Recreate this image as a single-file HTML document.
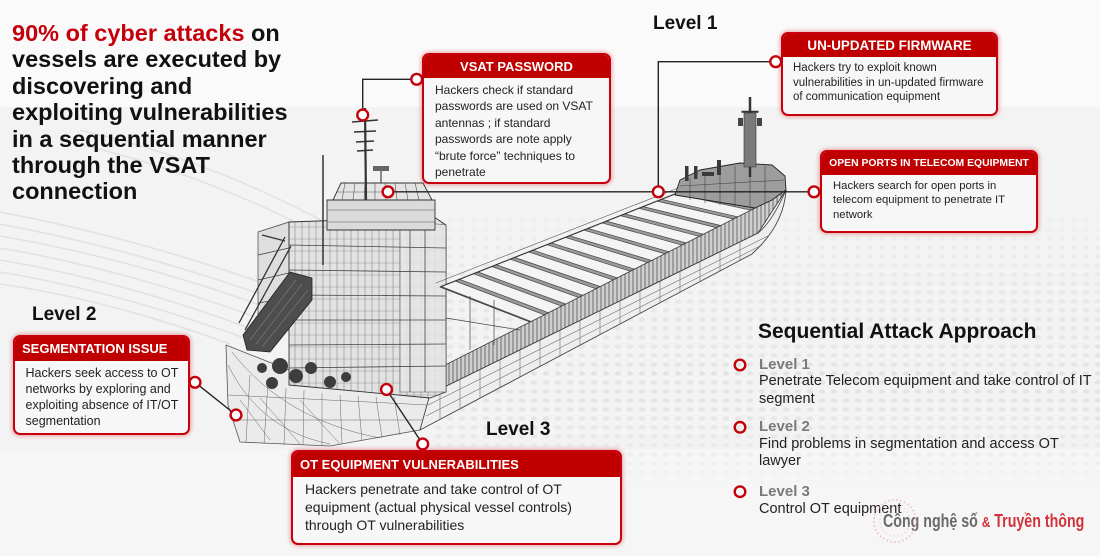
<!DOCTYPE html>
<html><head><meta charset="utf-8">
<style>
*{margin:0;padding:0;box-sizing:border-box}
html,body{width:1100px;height:556px;overflow:hidden}
body{position:relative;background:#f3f3f3;font-family:"Liberation Sans",Arial,sans-serif;color:#1a1a1a}
svg.layer{position:absolute;left:0;top:0}
.head{position:absolute;left:12px;top:20px;font-weight:bold;font-size:23.5px;line-height:26.4px;white-space:nowrap;color:#111;z-index:2}
.head .r{color:#c4000b}
.lvl{position:absolute;font-weight:bold;font-size:19px;line-height:22px;white-space:nowrap;color:#111;z-index:2}
.box{position:absolute;border:2px solid #c8000e;border-radius:7px;background:#f7f7f7;box-shadow:0 0 4px 1px rgba(210,0,0,.35);overflow:hidden;z-index:2}
.box .h{background:#c00000;color:#fff;font-weight:bold;white-space:nowrap}
.box .b{color:#222;white-space:nowrap}
.seq{position:absolute;white-space:nowrap;z-index:2}
</style>
</head>
<body>

<svg class="layer" width="1100" height="556" viewBox="0 0 1100 556" style="z-index:0">
  <defs>
    <pattern id="dots" width="12" height="9" patternUnits="userSpaceOnUse">
      <ellipse cx="6" cy="4.5" rx="3.2" ry="2.2" fill="#e3e3e3"/>
    </pattern>
    <linearGradient id="fade" x1="0" y1="0" x2="0" y2="1">
      <stop offset="0" stop-color="#000"/>
      <stop offset=".3" stop-color="#aaa"/>
      <stop offset=".7" stop-color="#fff"/>
      <stop offset="1" stop-color="#000"/>
    </linearGradient>
    <mask id="m"><rect x="430" y="200" width="670" height="290" fill="url(#fade)"/></mask>
    <pattern id="vl" width="4" height="10" patternUnits="userSpaceOnUse">
      <rect width="4" height="10" fill="#cfcfcf"/>
      <line x1="1" y1="0" x2="1" y2="10" stroke="#555" stroke-width=".8"/>
    </pattern>
    <pattern id="win" width="7" height="12" patternUnits="userSpaceOnUse">
      <rect width="7" height="12" fill="#e2e2e2"/>
      <line x1="1" y1="0" x2="1" y2="12" stroke="#777" stroke-width=".5"/>
      <line x1="0" y1="11" x2="7" y2="11" stroke="#888" stroke-width=".4"/>
    </pattern>
  </defs>
  <rect x="0" y="0" width="1100" height="107" fill="#fafafa"/>
  <rect x="0" y="450" width="1100" height="106" fill="#f6f6f6"/>
  <rect x="430" y="200" width="670" height="290" fill="url(#dots)" mask="url(#m)"/>
  <!-- left swooshes -->
  <g stroke="#e2e2e2" stroke-width="1.6" fill="none">
    <path d="M0,212 Q150,240 310,300"/>
    <path d="M0,224 Q150,252 310,312"/>
    <path d="M0,236 Q150,262 300,320"/>
    <path d="M0,248 Q140,272 290,330"/>
    <path d="M0,260 Q130,282 270,336"/>
    <path d="M0,272 Q120,292 250,340"/>
    <path d="M0,284 Q110,300 230,344"/>
    <path d="M60,140 Q200,170 330,240"/>
    <path d="M80,130 Q210,160 330,225"/>
  </g>

  <!-- SHIP -->
  <g stroke-linejoin="round">
    <path d="M226,345 L289,370 L430,398 L420,430 L330,446 L240,442 L228,405 Z" fill="#ebebeb" stroke="#555" stroke-width=".8"/>
    <g stroke="#666" stroke-width=".5" fill="none">
      <path d="M228,365 Q260,430 330,444"/>
      <path d="M232,352 Q285,420 380,438"/>
      <path d="M228,395 L428,405"/>
      <path d="M232,420 L424,420"/>
      <path d="M250,375 L246,442"/><path d="M268,382 L264,444"/><path d="M286,388 L284,445"/>
      <path d="M304,390 L303,445"/><path d="M322,393 L322,446"/><path d="M340,395 L342,444"/>
      <path d="M358,396 L362,441"/><path d="M376,397 L382,438"/><path d="M394,397 L400,435"/>
      <path d="M240,400 L270,440"/><path d="M260,398 L300,444"/><path d="M300,400 L340,444"/>
    </g>
    <path d="M430,394 L758,233 Q772,222 786,190 Q784,225 752,254 L420,430 Z" fill="#eeeeee" stroke="#444" stroke-width=".9"/>
    <g stroke="#666" stroke-width=".55" fill="none">
      <path d="M428,405 L768,236"/>
      <path d="M426,416 L762,245"/>
      <path d="M440,389 L440,419"/><path d="M460,380 L460,409"/><path d="M480,370 L480,398"/>
      <path d="M500,360 L500,388"/><path d="M520,350 L520,377"/><path d="M540,340 L540,366"/>
      <path d="M560,330 L560,356"/><path d="M580,320 L580,345"/><path d="M600,311 L600,335"/>
      <path d="M620,301 L620,324"/><path d="M640,291 L640,313"/><path d="M660,281 L660,303"/>
      <path d="M680,271 L680,292"/><path d="M700,261 L700,282"/><path d="M720,252 L720,271"/>
      <path d="M740,242 L740,260"/>
    </g>
    <path d="M430,372.7 L755,208 L786,190 L758,233 L430,394 Z" fill="url(#vl)" stroke="#333" stroke-width=".8"/>

    <path d="M258,232 L289,222 L289,330 L258,323 Z" fill="#dedede" stroke="#444" stroke-width=".7"/>
    <path d="M289,222 L434,217 L446,225 L446,392 L430,398 L289,385 Z" fill="url(#win)" stroke="#333" stroke-width=".9"/>
    <path d="M400,220 L446,225 L446,392 L400,392 Z" fill="#e6e6e6" stroke="#444" stroke-width=".6" opacity=".85"/>
    <g stroke="#444" stroke-width=".8" fill="none">
      <path d="M289,245 L446,248"/><path d="M289,270 L446,272"/><path d="M289,295 L446,296"/>
      <path d="M289,320 L446,320"/><path d="M289,345 L446,344"/><path d="M289,368 L446,366"/>
      <path d="M258,255 L289,248"/><path d="M258,280 L289,273"/><path d="M258,303 L289,298"/>
      <path d="M410,222 L410,392"/><path d="M425,223 L425,392"/>
    </g>
    <rect x="327" y="200" width="108" height="30" fill="#dadada" stroke="#333" stroke-width=".9"/>
    <path d="M327,210 L435,210 M327,222 L435,222" stroke="#555" stroke-width=".6"/>
    <path d="M341,183 L423,183 L432,200 L333,200 Z" fill="#e4e4e4" stroke="#333" stroke-width=".9"/>
    <g stroke="#555" stroke-width=".6">
      <path d="M337,192 L428,192"/>
      <path d="M345,183 L342,200 M355,183 L353,200 M365,183 L364,200 M375,183 L375,200 M385,183 L386,200 M395,183 L397,200 M405,183 L408,200 M415,183 L419,200"/>
    </g>
    <path d="M365,108 L366,200" stroke="#333" stroke-width="2.2"/>
    <g stroke="#333" stroke-width="1.4">
      <path d="M352,122 L378,120"/><path d="M354,132 L376,131"/><path d="M356,142 L374,141"/><path d="M357,151 L373,150"/>
    </g>
    <path d="M323,155 L323,265" stroke="#333" stroke-width="1.5"/>
    <rect x="373" y="166" width="16" height="5" fill="#666"/>
    <path d="M381,171 L381,183" stroke="#444" stroke-width="1.2"/>
    <path d="M239,323 L285,237 M245,330 L291,246 M262,235 L285,241" stroke="#333" stroke-width="1.3" fill="none"/>
    <path d="M243,335 L290,272 L312,278 L312,300 L270,352 L247,350 Z" fill="#4d4d4d" stroke="#222" stroke-width=".8"/>
    <g stroke="#9a9a9a" stroke-width=".5">
      <path d="M250,340 L296,280"/><path d="M256,344 L302,284"/><path d="M262,347 L308,290"/>
    </g>
    <g fill="#3d3d3d">
      <circle cx="280" cy="366" r="8"/><circle cx="296" cy="376" r="7"/><circle cx="311" cy="368" r="6"/>
      <circle cx="330" cy="382" r="6"/><circle cx="272" cy="383" r="6"/><circle cx="346" cy="377" r="5"/>
      <circle cx="262" cy="368" r="5"/>
    </g>

    <path d="M440,287 L680,192 L755,208 L530,322 Z" fill="#9a9a9a" stroke="#333" stroke-width=".8"/>
    <g fill="#f4f4f4" stroke="#444" stroke-width=".7">
      <path d="M441.2,286.5 L455.1,281.0 L544.2,314.8 L531.1,321.4 Z"/>
      <path d="M459.6,279.3 L473.5,273.7 L561.4,306.1 L548.3,312.7 Z"/>
      <path d="M477.9,272.0 L491.8,266.5 L578.6,297.4 L565.6,304.0 Z"/>
      <path d="M496.3,264.7 L510.2,259.2 L595.8,288.7 L582.8,295.3 Z"/>
      <path d="M514.6,257.5 L528.6,251.9 L613.0,279.9 L600.0,286.5 Z"/>
      <path d="M533.0,250.2 L546.9,244.7 L630.2,271.2 L617.2,277.8 Z"/>
      <path d="M551.4,242.9 L565.3,237.4 L647.5,262.5 L634.4,269.1 Z"/>
      <path d="M569.7,235.7 L583.6,230.1 L664.7,253.8 L651.6,260.4 Z"/>
      <path d="M588.1,228.4 L602.0,222.9 L681.9,245.1 L668.8,251.7 Z"/>
      <path d="M606.4,221.1 L620.4,215.6 L699.1,236.3 L686.0,242.9 Z"/>
      <path d="M624.8,213.9 L638.7,208.3 L716.3,227.6 L703.3,234.2 Z"/>
      <path d="M643.2,206.6 L657.1,201.1 L733.5,218.9 L720.5,225.5 Z"/>
      <path d="M661.5,199.3 L675.4,193.8 L750.7,210.2 L737.7,216.8 Z"/>
    </g>
    <path d="M440,287 L680,192" stroke="#333" stroke-width="1.1"/>
    <path d="M436,283 L678,188" stroke="#555" stroke-width=".6"/>
    <g stroke="#444" stroke-width=".7" fill="none">
      <path d="M446,292 L446,340 M470,296 L470,350 M494,300 L494,345 M446,318 L520,330"/>
    </g>

    <path d="M675,195 L680,180 L700,170 L740,163 L772,165 L785,176 L786,190 L772,200 L755,208 Z" fill="#9d9d9d" stroke="#222" stroke-width=".9"/>
    <g stroke="#444" stroke-width=".6">
      <path d="M680,186 L784,180"/><path d="M690,178 L690,200 M705,172 L705,203 M720,168 L720,205 M735,166 L735,207 M750,165 L750,207 M765,166 L765,203"/>
    </g>
    <g fill="#3a3a3a">
      <rect x="685" y="166" width="3.5" height="15"/><rect x="694" y="166" width="3.5" height="13"/>
      <rect x="717" y="160" width="4" height="15"/><rect x="702" y="172" width="12" height="4"/>
    </g>
    <path d="M750,97 L750,177" stroke="#333" stroke-width="2.5"/>
    <rect x="744" y="113" width="12" height="54" fill="#7a7a7a" stroke="#333" stroke-width=".6"/>
    <path d="M741.5,111.7 L758.5,111.7" stroke="#333" stroke-width="2"/>
    <rect x="738" y="118" width="5" height="8" fill="#444"/><rect x="757" y="118" width="5" height="8" fill="#444"/>
  </g>
</svg>

<div class="head"><span class="r">90% of cyber attacks</span> on<br>vessels are executed by<br>discovering and<br>exploiting vulnerabilities<br>in a sequential manner<br>through the VSAT<br>connection</div>

<div class="lvl" style="left:653px;top:13px">Level 1</div>
<div class="lvl" style="left:32px;top:304px">Level 2</div>
<div class="lvl" style="left:486px;top:419px">Level 3</div>

<div class="box" style="left:422px;top:53px;width:189px;height:131px">
  <div class="h" style="height:23px;line-height:23px;font-size:13px;text-align:center">VSAT PASSWORD</div>
  <div class="b" style="padding:3.5px 0 0 11px;font-size:12px;line-height:16.5px">Hackers check if standard<br>passwords are used on VSAT<br>antennas ; if standard<br>passwords are note apply<br>“brute force” techniques to<br>penetrate</div>
</div>

<div class="box" style="left:781px;top:32px;width:217px;height:84px">
  <div class="h" style="height:23px;line-height:23px;font-size:13.4px;text-align:center">UN-UPDATED FIRMWARE</div>
  <div class="b" style="padding:4px 0 0 10px;font-size:11.5px;line-height:14.7px">Hackers try to exploit known<br>vulnerabilities in un-updated firmware<br>of communication equipment</div>
</div>

<div class="box" style="left:820px;top:150px;width:218px;height:83px">
  <div class="h" style="height:23px;line-height:23px;font-size:10.4px;text-align:center">OPEN PORTS IN TELECOM EQUIPMENT</div>
  <div class="b" style="padding:3.5px 0 0 11px;font-size:11.3px;line-height:14.7px">Hackers search for open ports in<br>telecom equipment to penetrate IT<br>network</div>
</div>

<div class="box" style="left:13px;top:335px;width:177px;height:100px">
  <div class="h" style="height:24px;line-height:24px;font-size:13px;padding-left:7px">SEGMENTATION ISSUE</div>
  <div class="b" style="padding:3.5px 0 0 10.5px;font-size:12.5px;line-height:16.2px">Hackers seek access to OT<br>networks by exploring and<br>exploiting absence of IT/OT<br>segmentation</div>
</div>

<div class="box" style="left:291px;top:450px;width:331px;height:95px">
  <div class="h" style="height:25px;line-height:25px;font-size:13px;padding-left:7px">OT EQUIPMENT VULNERABILITIES</div>
  <div class="b" style="padding:4px 0 0 12px;font-size:14px;line-height:17.8px">Hackers penetrate and take control of OT<br>equipment (actual physical vessel controls)<br>through OT vulnerabilities</div>
</div>

<div class="seq" style="left:758px;top:320px;font-size:21px;line-height:24px;font-weight:bold;color:#111">Sequential Attack Approach</div>
<div class="seq" style="left:759px;top:356px;font-size:15px;line-height:18px;font-weight:bold;color:#7a7a7a">Level 1</div>
<div class="seq" style="left:759px;top:373px;font-size:14.5px;line-height:17.6px;color:#222">Penetrate Telecom equipment and take control of IT<br>segment</div>
<div class="seq" style="left:759px;top:418.3px;font-size:15px;line-height:18px;font-weight:bold;color:#7a7a7a">Level 2</div>
<div class="seq" style="left:759px;top:435.5px;font-size:14.5px;line-height:17.6px;color:#222">Find problems in segmentation and access OT<br>lawyer</div>
<div class="seq" style="left:759px;top:482.7px;font-size:15px;line-height:18px;font-weight:bold;color:#7a7a7a">Level 3</div>
<div class="seq" style="left:759px;top:500.5px;font-size:14.5px;line-height:17.6px;color:#222">Control OT equipment</div>

<div class="seq" style="left:883px;top:511px;font-size:18px;line-height:21px;font-weight:bold;transform:scaleX(.79);transform-origin:left center;z-index:3"><span style="color:#6a6a6a">Công nghệ số </span><span style="color:#d2333b;font-size:15px">&amp;</span><span style="color:#d2333b"> Truyền thông</span></div>

<svg class="layer" width="1100" height="556" viewBox="0 0 1100 556" style="z-index:3;pointer-events:none">
  <circle cx="895" cy="521" r="21" fill="none" stroke="#f0b8bc" stroke-width="2" stroke-dasharray="1.5 2.5" opacity=".8"/>
  <circle cx="895" cy="521" r="15" fill="none" stroke="#f4c8cb" stroke-width="1.5" stroke-dasharray="1.5 2.5" opacity=".7"/>
  <g stroke="#222" stroke-width="1.4" fill="none">
    <polyline points="362.7,115 362.7,79.3 416.7,79.3"/>
    <line x1="388" y1="191.8" x2="814" y2="191.8"/>
    <polyline points="658.3,191.8 658.3,61.7 775.7,61.7"/>
    <line x1="195" y1="382.3" x2="236" y2="415"/>
    <line x1="386.5" y1="389.5" x2="422.7" y2="444"/>
  </g>
  <g fill="#fff" stroke="#c4000b" stroke-width="2.4">
    <circle cx="362.7" cy="115" r="5.4"/>
    <circle cx="416.7" cy="79.3" r="5.4"/>
    <circle cx="388" cy="191.8" r="5.4"/>
    <circle cx="658.3" cy="191.8" r="5.4"/>
    <circle cx="775.7" cy="61.7" r="5.4"/>
    <circle cx="814" cy="191.8" r="5.4"/>
    <circle cx="195" cy="382.3" r="5.4"/>
    <circle cx="236" cy="415" r="5.4"/>
    <circle cx="386.5" cy="389.5" r="5.4"/>
    <circle cx="422.7" cy="444" r="5.4"/>
  </g>
  <g fill="none" stroke="#c4000b" stroke-width="2.4">
    <circle cx="740" cy="365" r="5.3"/>
    <circle cx="740" cy="427.3" r="5.3"/>
    <circle cx="740" cy="491.7" r="5.3"/>
  </g>
</svg>

</body>
</html>
